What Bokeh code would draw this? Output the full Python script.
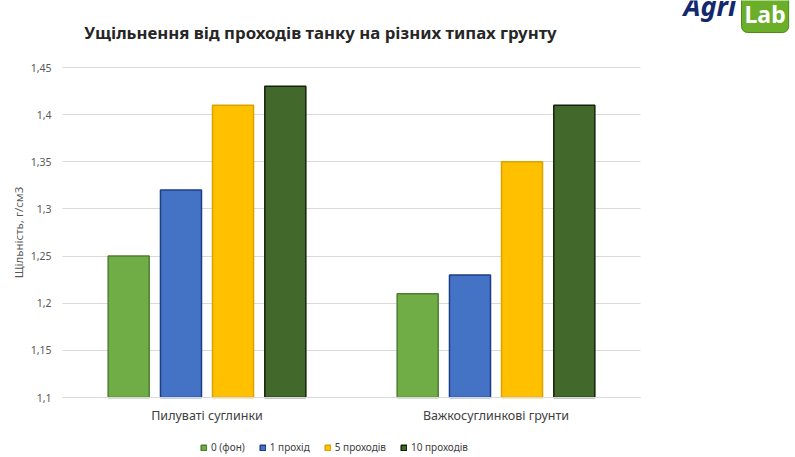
from bokeh.plotting import figure
from bokeh.models import (ColumnDataSource, Legend, LegendItem, Label, Grid,
                          FixedTicker, CustomJSTickFormatter, Range1d)
from bokeh.transform import dodge
from bokeh.embed import file_html
from bokeh.resources import INLINE

# ---------------- data ----------------
title_text = "Ущільнення від проходів танку на різних типах грунту"
y_label = "Щільність, г/см3"
categories = ["Пилуваті суглинки", "Важкосуглинкові грунти"]
series_names = ["0 (фон)", "1 прохід", "5 проходів", "10 проходів"]
pass_0 = [1.25, 1.21]
pass_1 = [1.32, 1.23]
pass_5 = [1.41, 1.35]
pass_10 = [1.43, 1.41]
y_ticks = [1.1, 1.15, 1.2, 1.25, 1.3, 1.35, 1.4, 1.45]
Y_MIN, Y_MAX = 1.1, 1.45

# ---------------- styles / layout ----------------
fills = ["#70AD47", "#4472C4", "#FFC000", "#43682B"]
lines = ["#507E32", "#1F3C88", "#D9A300", "#13230A"]
offsets = [-0.271, -0.09, 0.09, 0.271]
BAR_W = 0.142
FONT = "Noto Sans"

W, H = 795, 457
PLOT_L, PLOT_R, PLOT_T, PLOT_B = 62, 640, 67, 397   # plot area in pixels
n_cat = len(categories)
px_per_cat = (PLOT_R - PLOT_L) / n_cat
px_per_val = (PLOT_B - PLOT_T) / (Y_MAX - Y_MIN)
x_start = -PLOT_L / px_per_cat
x_end = n_cat + (W - PLOT_R) / px_per_cat
y_start = Y_MIN - (H - PLOT_B) / px_per_val
y_end = Y_MAX + PLOT_T / px_per_val

cat_pos = [i + 0.5 for i in range(n_cat)]
source = ColumnDataSource(dict(xpos=cat_pos, s0=pass_0, s1=pass_1, s5=pass_5, s10=pass_10))
cols = ["s0", "s1", "s5", "s10"]

p = figure(x_range=Range1d(x_start, x_end), y_range=Range1d(y_start, y_end),
           width=W, height=H, output_backend="svg", toolbar_location=None, min_border=0)
p.outline_line_color = None
p.background_fill_color = "white"

# grid lines restricted to the plot area
p.xgrid.visible = False
if "cross_bounds" in Grid.properties():
    p.ygrid.ticker = FixedTicker(ticks=y_ticks)
    p.ygrid.cross_bounds = (0, n_cat)
    p.ygrid.grid_line_color = "#D9D9D9"
    p.ygrid.grid_line_width = 1
else:
    p.ygrid.visible = False
    p.segment(x0=0, x1=n_cat, y0=y_ticks, y1=y_ticks, line_color="#D9D9D9",
              line_width=1, level="underlay")

renderers = []
for col, off, fc, lc in zip(cols, offsets, fills, lines):
    r = p.vbar(x=dodge("xpos", off), top=col, bottom=Y_MIN, width=BAR_W,
               fill_color=fc, line_color=lc, line_width=1.5, source=source)
    renderers.append(r)

# x axis (fixed at the bottom of the plot area; takes no border space)
xa = p.xaxis[0]
xa.fixed_location = Y_MIN
xa.bounds = (0, n_cat)
xa.ticker = FixedTicker(ticks=cat_pos)
xa.major_label_overrides = {pos: name for pos, name in zip(cat_pos, categories)}
xa.axis_line_color = "#D9D9D9"
xa.major_tick_line_color = None
xa.minor_tick_line_color = None
xa.major_tick_out = 0
xa.major_tick_in = 0
xa.major_label_standoff = 9
xa.major_label_text_font = FONT
xa.major_label_text_font_size = "12.5px"
xa.major_label_text_color = "#404040"

# y axis
ya = p.yaxis[0]
ya.fixed_location = 0
ya.bounds = (Y_MIN, Y_MAX)
ya.axis_line_color = None
ya.major_tick_line_color = None
ya.minor_tick_line_color = None
ya.major_tick_out = 0
ya.major_tick_in = 0
ya.ticker = FixedTicker(ticks=y_ticks)
ya.formatter = CustomJSTickFormatter(
    code="return tick.toFixed(2).replace(/0$/, '').replace('.', ',');")
ya.major_label_standoff = 11
ya.major_label_text_font = FONT
ya.major_label_text_font_size = "10.5px"
ya.major_label_text_color = "#595959"
ya.axis_label = y_label
ya.axis_label_standoff = 2
ya.axis_label_text_font = FONT
ya.axis_label_text_font_size = "11.5px"
ya.axis_label_text_font_style = "normal"
ya.axis_label_text_color = "#595959"

# title
p.add_layout(Label(x=320, y=H - 32, x_units="screen", y_units="screen",
                   text=title_text, text_align="center", text_baseline="middle",
                   text_font=FONT, text_font_style="bold", text_font_size="16.8px",
                   text_color="#262626"))

# logo (cut at the top, as in the reference)
p.add_layout(Label(x=683, y=H - 5, x_units="screen", y_units="screen",
                   text="Agri", text_align="left", text_baseline="alphabetic",
                   text_font=FONT, text_font_style="bold italic", text_font_size="27px",
                   text_color="#14286E"))
p.add_layout(Label(x=741, y=H - 32, x_units="screen", y_units="screen",
                   text="Lab", text_align="left", text_baseline="bottom",
                   text_font=FONT, text_font_style="bold", text_font_size="23px",
                   text_color="white", background_fill_color="#6AAE2A",
                   border_line_color="#4E8A1A", padding=3, border_radius=6))

# legend
items = [LegendItem(label=n, renderers=[r]) for n, r in zip(series_names, renderers)]
legend = Legend(items=items, orientation="horizontal", location=(200, 3),
                padding=0, margin=0, spacing=14, glyph_width=7, glyph_height=7,
                label_height=12, label_standoff=4, label_text_font=FONT,
                label_text_font_size="10px", label_text_color="#404040",
                background_fill_alpha=0, border_line_alpha=0)
p.add_layout(legend)

open("out.html", "w").write(file_html(p, INLINE))
